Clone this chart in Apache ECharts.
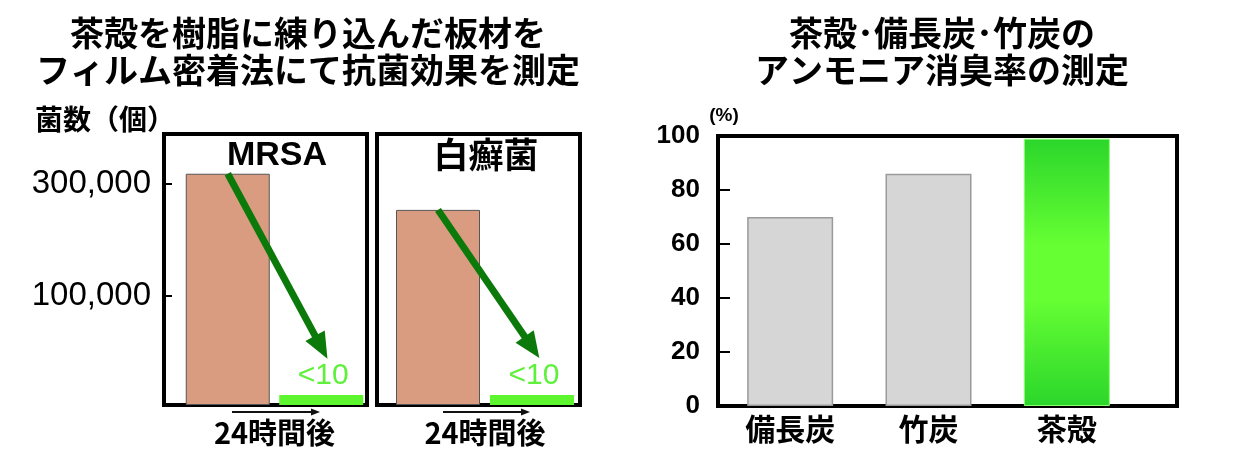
<!DOCTYPE html>
<html>
<head>
<meta charset="utf-8">
<script src="https://cdn.jsdelivr.net/npm/echarts@6/dist/echarts.min.js"></script>
<style>
html,body{margin:0;padding:0;background:#fff;}
#c{width:1240px;height:456px;}
</style>
</head>
<body>
<div id="c"></div>
<script>
// ---- data ----
const timeCats = ['開始時', '24時間後'];
const mrsaCounts = [320000, 10];      // after 24h: <10
const tineaCounts = [270000, 10];     // after 24h: <10
const countTicks = [100000, 300000];
const arrowTipValue = 80000;
const materials = ['備長炭', '竹炭', '茶殻'];
const odorRates = [70, 86, 99];

const CJK = "'Noto Sans CJK JP', sans-serif";
const LAT = "'Liberation Sans', Arial, sans-serif";

const salmon = { color: '#d99c80', borderColor: '#555', borderWidth: 1 };
const lime = { color: '#5cf52e' };

function countSeries(xi, yi, counts) {
  return {
    type: 'bar', xAxisIndex: xi, yAxisIndex: yi, barWidth: 84, barMinHeight: 10,
    data: counts.map((v, i) => ({
      value: v,
      itemStyle: i === 0 ? salmon : lime,
      label: i === 1
        ? { show: true, position: 'top', formatter: '<10', color: '#5ef03a',
            fontSize: 30, fontFamily: LAT, distance: 4, offset: [2, 0] }
        : { show: false }
    })),
    markLine: {
      silent: true, symbol: ['none', 'triangle'], symbolSize: [22, 26],
      label: { show: false },
      lineStyle: { color: '#0b7a0b', width: 7, type: 'solid' },
      data: [[{ coord: [0, counts[0]] }, { coord: [1, arrowTipValue] }]]
    }
  };
}

function arrowGraphic(x1, x2, y) {
  return [
    { type: 'line', shape: { x1: x1, y1: y, x2: x2 - 6, y2: y }, style: { stroke: '#111', lineWidth: 2 } },
    { type: 'polygon', shape: { points: [[x2 - 9, y - 3.5], [x2, y], [x2 - 9, y + 3.5]] }, style: { fill: '#111' } }
  ];
}

const boxGrid = { show: true, borderColor: '#000', borderWidth: 4, backgroundColor: 'transparent' };
const nameStyle = { fontFamily: CJK, fontWeight: 'bold', fontSize: 29, color: '#000' };
const hiddenValue = { type: 'value', min: 0, max: 1, show: false };

const greenGrad = new echarts.graphic.LinearGradient(0, 0, 0, 1, [
  { offset: 0, color: '#2bd62b' },
  { offset: 0.4, color: '#66ff33' },
  { offset: 0.6, color: '#66ff33' },
  { offset: 1, color: '#2bd62b' }
]);

const option = {
  animation: false,
  backgroundColor: '#fff',
  title: [
    { text: '茶殻を樹脂に練り込んだ板材を\nフィルム密着法にて抗菌効果を測定', left: 308, top: 52,
      textAlign: 'center', textVerticalAlign: 'middle', padding: 0,
      textStyle: { fontFamily: CJK, fontWeight: 'bold', fontSize: 34, lineHeight: 37, color: '#000' } },
    { text: '茶殻･備長炭･竹炭の\nアンモニア消臭率の測定', left: 942, top: 52,
      textAlign: 'center', textVerticalAlign: 'middle', padding: 0,
      textStyle: { fontFamily: CJK, fontWeight: 'bold', fontSize: 34, lineHeight: 37, color: '#000' } },
    { text: '菌数（個）', left: 35, top: 119, textAlign: 'left', textVerticalAlign: 'middle', padding: 0,
      textStyle: { fontFamily: CJK, fontWeight: 'bold', fontSize: 28, color: '#000' } },
    { text: 'MRSA', left: 277, top: 156, textAlign: 'center', textVerticalAlign: 'middle', padding: 0,
      textStyle: { fontFamily: LAT, fontWeight: 'bold', fontSize: 34, color: '#000' } },
    { text: '白癬菌', left: 486, top: 155, textAlign: 'center', textVerticalAlign: 'middle', padding: 0,
      textStyle: { fontFamily: CJK, fontWeight: 'bold', fontSize: 35, color: '#000' } }
  ],
  grid: [
    Object.assign({ left: 164, top: 134, width: 203, height: 271 }, boxGrid),   // 0 MRSA box
    { left: 181, top: 134, width: 187, height: 271, show: false },              // 1 MRSA bars
    Object.assign({ left: 377, top: 134, width: 203, height: 271 }, boxGrid),   // 2 tinea box
    { left: 391, top: 134, width: 188, height: 271, show: false },              // 3 tinea bars
    Object.assign({ left: 718, top: 136, width: 459, height: 270 }, boxGrid),   // 4 odor box
    { left: 721, top: 136, width: 415, height: 270, show: false }               // 5 odor bars
  ],
  xAxis: [
    Object.assign({ gridIndex: 0 }, hiddenValue),
    { gridIndex: 1, type: 'category', data: timeCats, axisLine: { show: false }, axisTick: { show: false },
      axisLabel: { show: false }, name: '24時間後', nameLocation: 'middle', nameGap: 13, nameTextStyle: nameStyle },
    Object.assign({ gridIndex: 2 }, hiddenValue),
    { gridIndex: 3, type: 'category', data: timeCats, axisLine: { show: false }, axisTick: { show: false },
      axisLabel: { show: false }, name: '24時間後', nameLocation: 'middle', nameGap: 13, nameTextStyle: nameStyle },
    Object.assign({ gridIndex: 4 }, hiddenValue),
    { gridIndex: 5, type: 'category', data: materials, axisLine: { show: false }, axisTick: { show: false },
      axisLabel: { fontFamily: CJK, fontWeight: 'bold', fontSize: 30, color: '#000', margin: 8 } }
  ],
  yAxis: [
    { gridIndex: 0, type: 'value', min: -96000, max: 389500, splitLine: { show: false },
      axisLine: { show: false },
      axisTick: { show: true, inside: true, length: 8, lineStyle: { color: '#000', width: 2 }, customValues: countTicks },
      axisLabel: { customValues: countTicks, fontFamily: LAT, fontSize: 33, color: '#000', margin: 13,
                   formatter: v => Number(v).toLocaleString('en-US') } },
    { gridIndex: 1, type: 'value', min: 0, max: 375000, show: false },
    Object.assign({ gridIndex: 2 }, hiddenValue),
    { gridIndex: 3, type: 'value', min: 0, max: 375000, show: false },
    Object.assign({ gridIndex: 4 }, hiddenValue),
    { gridIndex: 5, type: 'value', min: 0, max: 100, interval: 20, offset: 3, splitLine: { show: false },
      axisLine: { show: false },
      axisTick: { show: true, inside: true, length: 12, lineStyle: { color: '#000', width: 2 } },
      axisLabel: { fontFamily: LAT, fontWeight: 'bold', fontSize: 26, color: '#000', margin: 18 },
      name: '(%)', nameLocation: 'end', nameGap: 11,
      nameTextStyle: { fontFamily: LAT, fontWeight: 'bold', fontSize: 19, color: '#000', align: 'center', padding: [0, 0, 0, 12] } }
  ],
  series: [
    countSeries(1, 1, mrsaCounts),
    countSeries(3, 3, tineaCounts),
    {
      type: 'bar', name: 'アンモニア消臭率', xAxisIndex: 5, yAxisIndex: 5, barWidth: 86,
      data: odorRates.map((v, i) => ({
        value: v,
        itemStyle: materials[i] === '茶殻'
          ? { color: greenGrad, borderColor: '#8aff70', borderWidth: 1 }
          : { color: '#d6d6d6', borderColor: '#9a9a9a', borderWidth: 1.5 }
      }))
    }
  ],
  graphic: [].concat(arrowGraphic(232, 320, 412), arrowGraphic(443, 530, 412))
};

const chart = echarts.init(document.getElementById('c'), null, { renderer: 'canvas' });
chart.setOption(option);
</script>
</body>
</html>
